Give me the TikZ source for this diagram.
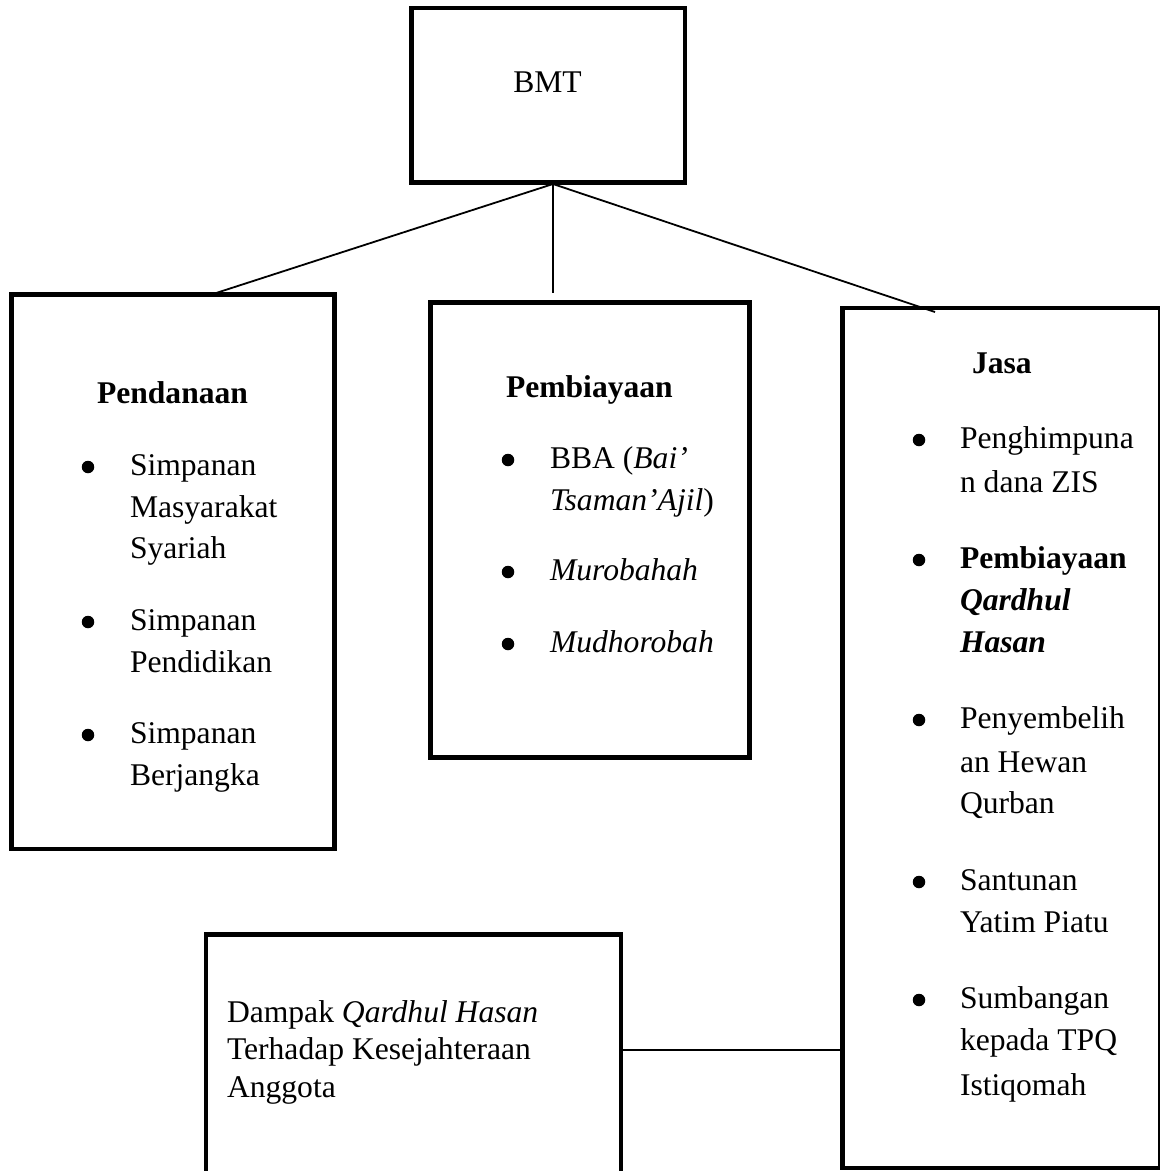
\documentclass[tikz,border=0pt]{standalone}
\usepackage{fontspec}
\setmainfont{Liberation Serif}
\begin{document}
\begin{tikzpicture}[x=1pt,y=-1pt,
  box/.style={draw=black, line width=4.5pt, inner sep=0pt, outer sep=0pt, fill=white},
  conn/.style={draw=black, line width=1.8pt},
  txt/.style={anchor=base west, inner sep=0pt, outer sep=0pt, font=\fontsize{31.6}{38}\selectfont},
  bul/.style={circle, fill=black, inner sep=0pt, minimum size=12.5pt}]
\useasboundingbox (0,0) rectangle (1160,1171);
\clip (0,0) rectangle (1160,1171);
\fill[white] (0,0) rectangle (1160,1171);

% boxes
\node[box, minimum width=273.5pt, minimum height=174.5pt] (bmt) at (548.25,95.25) {};
\node[box, minimum width=323pt, minimum height=554.5pt] (pend) at (173,571.75) {};
\node[box, minimum width=319pt, minimum height=455pt] (pemb) at (590,530) {};
\node[box, minimum width=317.5pt, minimum height=860pt] (jasa) at (1001.25,738) {};
\node[box, minimum width=415pt, minimum height=315pt] (damp) at (413.5,1092) {};

% connectors
\coordinate (hub) at (553,184);
\coordinate (lend) at (213,294);
\coordinate (mend) at (553,293);
\coordinate (rend) at (935,312);
\coordinate (hline) at (0,1050);
\draw[conn] (hub) -- (lend);
\draw[conn] (hub) -- (mend);
\draw[conn] (hub) -- (rend);
\draw[conn] (damp.east |- hline) -- (jasa.west |- hline);

% BMT
\node[txt, anchor=base] (tbmt) at (547.5,92) {BMT};

% Pendanaan
\node[txt] (t1) at (97,403) {\bfseries Pendanaan};
\node[bul] (b11) at (88,467) {};
\node[bul] (b12) at (88,622) {};
\node[bul] (b13) at (88,735) {};
\node[txt] (t11) at (130,475) {Simpanan};
\node[txt] (t12) at (130,517) {Masyarakat};
\node[txt] (t13) at (130,558) {Syariah};
\node[txt] (t14) at (130,630) {Simpanan};
\node[txt] (t15) at (130,672) {Pendidikan};
\node[txt] (t16) at (130,743) {Simpanan};
\node[txt] (t17) at (130,785) {Berjangka};

% Pembiayaan
\node[txt] (t2) at (506,397) {\bfseries Pembiayaan};
\node[bul] (b21) at (508,460) {};
\node[bul] (b22) at (508,572) {};
\node[bul] (b23) at (508,644) {};
\node[txt] (t21) at (550,468) {BBA (\textit{Bai’}};
\node[txt] (t22) at (550,510) {\textit{Tsaman’Ajil})};
\node[txt] (t23) at (550,580) {\textit{Murobahah}};
\node[txt] (t24) at (550,652) {\textit{Mudhorobah}};

% Jasa
\node[txt] (t3) at (972,373) {\bfseries Jasa};
\node[bul] (b31) at (919,440) {};
\node[bul] (b32) at (919,560) {};
\node[bul] (b33) at (919,720) {};
\node[bul] (b34) at (919,882) {};
\node[bul] (b35) at (919,1000) {};
\node[txt] (t31) at (960,448) {Penghimpuna};
\node[txt] (t32) at (960,492) {n dana ZIS};
\node[txt] (t33) at (960,568) {\bfseries Pembiayaan};
\node[txt] (t34) at (960,610) {\bfseries\itshape Qardhul};
\node[txt] (t35) at (960,652) {\bfseries\itshape Hasan};
\node[txt] (t36) at (960,728) {Penyembelih};
\node[txt] (t37) at (960,772) {an Hewan};
\node[txt] (t38) at (960,813) {Qurban};
\node[txt] (t39) at (960,890) {Santunan};
\node[txt] (t310) at (960,932) {Yatim Piatu};
\node[txt] (t311) at (960,1008) {Sumbangan};
\node[txt] (t312) at (960,1050) {kepada TPQ};
\node[txt] (t313) at (960,1095) {Istiqomah};

% Dampak
\node[txt] (t41) at (227,1022) {Dampak \textit{Qardhul Hasan}};
\node[txt] (t42) at (227,1059) {Terhadap Kesejahteraan};
\node[txt] (t43) at (227,1097) {Anggota};
\end{tikzpicture}
\end{document}
